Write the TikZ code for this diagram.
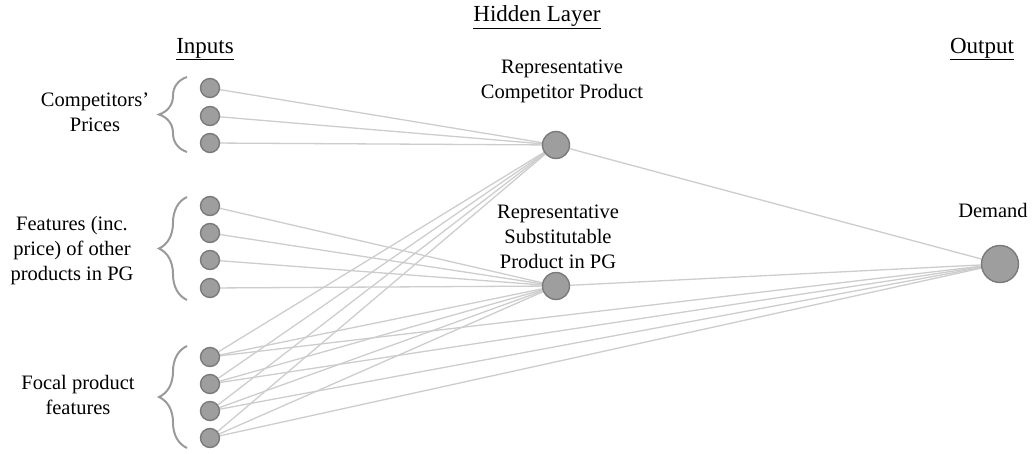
\documentclass[tikz,border=0pt]{standalone}
\usepackage{fontspec}
\setmainfont{Liberation Serif}
\usetikzlibrary{decorations.pathreplacing,backgrounds}
\definecolor{nodefill}{HTML}{9E9E9E}
\definecolor{nodeedge}{HTML}{7A7A7A}
\definecolor{linkgray}{HTML}{CDCDCD}
\definecolor{bracegray}{HTML}{9A9A9A}
\begin{document}
\begin{tikzpicture}[x=1pt,y=-1pt,
  unit/.style={circle,draw=nodeedge,fill=nodefill,line width=1.4pt,inner sep=0pt},
  inunit/.style={unit,minimum size=19pt},
  hidunit/.style={unit,minimum size=27pt},
  outunit/.style={unit,minimum size=37pt},
  link/.style={draw=linkgray,line width=1.3pt},
  grp/.style={draw=bracegray,line width=2pt,decorate,decoration={brace,amplitude=28pt}},
  lbl/.style={align=center,font=\fontsize{20.5}{25}\selectfont,inner sep=0pt},
  head/.style={font=\fontsize{23}{27}\selectfont,inner sep=0pt}]

\useasboundingbox (0,0) rectangle (1033,454);

% layer headings
\node[head] (hIn)  at (205,49)  {\underline{Inputs}};
\node[head] (hHid) at (537,17)  {\underline{Hidden Layer}};
\node[head] (hOut) at (982,49)  {\underline{Output}};

% input units
\node[inunit] (c1) at (210,88)  {};
\node[inunit] (c2) at (210,116) {};
\node[inunit] (c3) at (210,143) {};
\node[inunit] (s1) at (210,206) {};
\node[inunit] (s2) at (210,233) {};
\node[inunit] (s3) at (210,260) {};
\node[inunit] (s4) at (210,288) {};
\node[inunit] (f1) at (210,357) {};
\node[inunit] (f2) at (210,384) {};
\node[inunit] (f3) at (210,411) {};
\node[inunit] (f4) at (210,438) {};

% hidden and output units
\node[hidunit] (rc) at (556,145) {};
\node[hidunit] (rs) at (556,286) {};
\node[outunit] (dm) at (1000,264) {};

% group labels
\node[lbl] (lc) at (95,112)  {Competitors'\\Prices};
\node[lbl] (ls) at (72,251)  {Features (inc.\\price) of other\\products in PG};
\node[lbl] (lf) at (78,395)  {Focal product\\features};
\node[lbl] (lrc) at (562,81) {Representative\\Competitor Product};
\node[lbl] (lrs) at (558,237) {Representative\\Substitutable\\Product in PG};
\node[lbl] (ld) at (993,210) {Demand};

% group braces
\draw[grp] (187,152) -- (187,77);
\draw[grp] (187,300) -- (187,197);
\draw[grp] (187,448) -- (187,346);

% connections
\begin{scope}[on background layer]
  \foreach \n in {c1,c2,c3} \draw[link] (\n) -- (rc);
  \foreach \n in {s1,s2,s3,s4} \draw[link] (\n) -- (rs);
  \foreach \n in {f1,f2,f3,f4} {
    \draw[link] (\n) -- (rc);
    \draw[link] (\n) -- (rs);
    \draw[link] (\n) -- (dm);
  }
  \draw[link] (rc) -- (dm);
  \draw[link] (rs) -- (dm);
\end{scope}
\end{tikzpicture}
\end{document}
